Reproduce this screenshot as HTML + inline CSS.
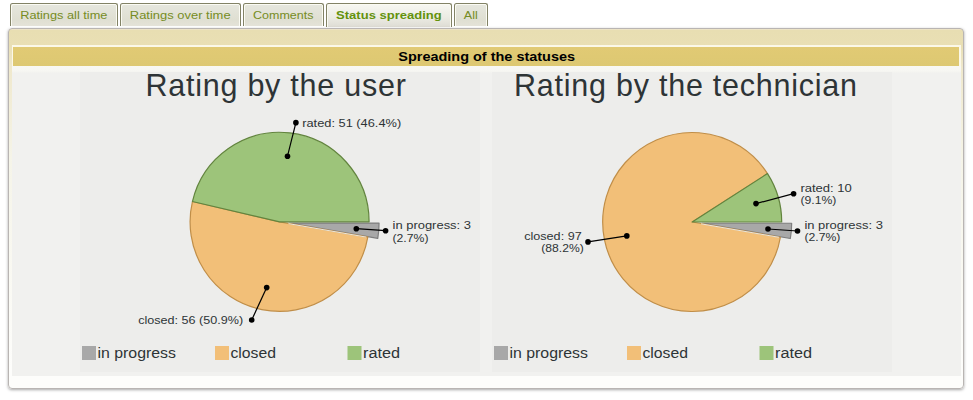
<!DOCTYPE html>
<html><head><meta charset="utf-8">
<style>
html,body{margin:0;padding:0;background:#fff;width:973px;height:400px;overflow:hidden;position:relative;font-family:"Liberation Sans",sans-serif}
.tab{position:absolute;top:3px;height:22px;border:1px solid #828266;border-bottom:none;border-radius:2.5px 2.5px 0 0;
 background:linear-gradient(#e6e7de,#dfdfd2 70%,#e4e2d8);box-shadow:inset 1px 1px 0 #fbfbf3, inset -1px 0 0 #fbfbf3}
.tab.act{height:23px;background:linear-gradient(#f7f7f2,#ebebe3 60%,#dedcd4)}
#panel{position:absolute;left:8px;top:28px;width:954px;height:359px;border:1px solid #b9b5b3;border-radius:4px;
 box-shadow:0 1px 3px rgba(0,0,0,.35);overflow:hidden;
 background:linear-gradient(#efe6cf 0px,#e8deb2 1.5px,#e9dfb4 16px,#efe8cc 38px,#f5f4e8 130px,#fdfdfb 340px)}
#tbl{position:absolute;left:3px;top:16px;width:949px;height:331px;background:#fbf8e8}
#th{position:absolute;left:4px;top:18px;width:946px;height:19px;background:linear-gradient(#e1ca74,#ddc872)}
#td{position:absolute;left:3px;top:37px;width:949px;height:310px;background:linear-gradient(#f8f8f4 0px,#f6f6f2 5px,#f1f1ef 7px,#f1f1ef 100%)}
svg{position:absolute;left:0;top:0}
text{font-family:"Liberation Sans",sans-serif}
</style></head><body>
<div class="tab" style="left:10px;width:106px"></div><div class="tab" style="left:120px;width:119px"></div><div class="tab" style="left:243px;width:79px"></div><div class="tab act" style="left:326px;width:124px"></div><div class="tab" style="left:454px;width:32px"></div>
<div id="panel"><div id="tbl"></div><div id="th"></div><div id="td"></div></div>
<svg width="973" height="400" viewBox="0 0 973 400">
<rect x="80" y="72" width="400" height="300" fill="#ededeb"/>
<rect x="492" y="72" width="400" height="300" fill="#ededeb"/>
<text x="145.4" y="95.6" font-size="30.5" text-anchor="start" font-weight="normal" fill="#2e3436" textLength="260.5" lengthAdjust="spacing">Rating by the user</text>
<text x="514" y="95.6" font-size="30.5" text-anchor="start" font-weight="normal" fill="#2e3436" textLength="343" lengthAdjust="spacing">Rating by the technician</text>
<path d="M289.56,223.06 L379.06,223.06 A89.5,89.5 0 0 1 377.75,238.32 Z" fill="#a8a8a8" stroke="#7e7e7e" stroke-width="1.2" stroke-linejoin="round"/>
<path d="M279.60,221.80 L367.79,237.06 A89.5,89.5 0 1 1 192.43,201.53 Z" fill="#f2bf78" stroke="#c08e48" stroke-width="1.2" stroke-linejoin="round"/>
<path d="M279.60,221.80 L192.43,201.53 A89.5,89.5 0 0 1 369.10,221.80 Z" fill="#9dc47a" stroke="#62843e" stroke-width="1.2" stroke-linejoin="round"/>
<line x1="288.47" y1="223.63" x2="366.31" y2="237.11" stroke="#ebe7dc" stroke-width="1"/>
<line x1="287.5" y1="156.2" x2="295.9" y2="122.65" stroke="#000" stroke-width="1.2"/><circle cx="287.5" cy="156.2" r="2.8" fill="#000"/><circle cx="295.9" cy="122.65" r="2.8" fill="#000"/>
<line x1="356.3" y1="228.7" x2="385.6" y2="230.7" stroke="#000" stroke-width="1.2"/><circle cx="356.3" cy="228.7" r="2.8" fill="#000"/><circle cx="385.6" cy="230.7" r="2.8" fill="#000"/>
<line x1="266.7" y1="287.6" x2="251.7" y2="320" stroke="#000" stroke-width="1.2"/><circle cx="266.7" cy="287.6" r="2.8" fill="#000"/><circle cx="251.7" cy="320" r="2.8" fill="#000"/>
<text x="302.2" y="126.75" font-size="11.5" text-anchor="start" font-weight="normal" fill="#2e3436" textLength="99" lengthAdjust="spacingAndGlyphs">rated: 51 (46.4%)</text>
<text x="392.5" y="228.6" font-size="11.5" text-anchor="start" font-weight="normal" fill="#2e3436" textLength="78.5" lengthAdjust="spacingAndGlyphs">in progress: 3</text>
<text x="392.5" y="241.5" font-size="11.5" text-anchor="start" font-weight="normal" fill="#2e3436" textLength="36" lengthAdjust="spacingAndGlyphs">(2.7%)</text>
<text x="138.2" y="323.6" font-size="11.5" text-anchor="start" font-weight="normal" fill="#2e3436" textLength="105" lengthAdjust="spacingAndGlyphs">closed: 56 (50.9%)</text>
<path d="M702.16,223.26 L791.66,223.26 A89.5,89.5 0 0 1 790.35,238.52 Z" fill="#a8a8a8" stroke="#7e7e7e" stroke-width="1.2" stroke-linejoin="round"/>
<path d="M692.20,222.00 L780.39,237.26 A89.5,89.5 0 1 1 767.49,173.61 Z" fill="#f2bf78" stroke="#c08e48" stroke-width="1.2" stroke-linejoin="round"/>
<path d="M692.20,222.00 L767.49,173.61 A89.5,89.5 0 0 1 781.70,222.00 Z" fill="#9dc47a" stroke="#62843e" stroke-width="1.2" stroke-linejoin="round"/>
<line x1="701.07" y1="223.83" x2="778.91" y2="237.31" stroke="#ebe7dc" stroke-width="1"/>
<line x1="756" y1="203.6" x2="793.6" y2="193.7" stroke="#000" stroke-width="1.2"/><circle cx="756" cy="203.6" r="2.8" fill="#000"/><circle cx="793.6" cy="193.7" r="2.8" fill="#000"/>
<line x1="768" y1="229" x2="797.5" y2="231" stroke="#000" stroke-width="1.2"/><circle cx="768" cy="229" r="2.8" fill="#000"/><circle cx="797.5" cy="231" r="2.8" fill="#000"/>
<line x1="626.8" y1="235.9" x2="588" y2="241.9" stroke="#000" stroke-width="1.2"/><circle cx="626.8" cy="235.9" r="2.8" fill="#000"/><circle cx="588" cy="241.9" r="2.8" fill="#000"/>
<text x="800.4" y="191.6" font-size="11.5" text-anchor="start" font-weight="normal" fill="#2e3436" textLength="51.5" lengthAdjust="spacingAndGlyphs">rated: 10</text>
<text x="800.4" y="203.8" font-size="11.5" text-anchor="start" font-weight="normal" fill="#2e3436" textLength="36" lengthAdjust="spacingAndGlyphs">(9.1%)</text>
<text x="804.4" y="228.6" font-size="11.5" text-anchor="start" font-weight="normal" fill="#2e3436" textLength="78.5" lengthAdjust="spacingAndGlyphs">in progress: 3</text>
<text x="804.4" y="240.8" font-size="11.5" text-anchor="start" font-weight="normal" fill="#2e3436" textLength="36" lengthAdjust="spacingAndGlyphs">(2.7%)</text>
<text x="524.2" y="240.1" font-size="11.5" text-anchor="start" font-weight="normal" fill="#2e3436" textLength="57.5" lengthAdjust="spacingAndGlyphs">closed: 97</text>
<text x="541.3" y="251.6" font-size="11.5" text-anchor="start" font-weight="normal" fill="#2e3436" textLength="42.5" lengthAdjust="spacingAndGlyphs">(88.2%)</text>
<rect x="82" y="346" width="14" height="14" fill="#a8a8a8"/>
<text x="97.5" y="357.8" font-size="15.5" text-anchor="start" font-weight="normal" fill="#2e3436" textLength="78.5" lengthAdjust="spacingAndGlyphs">in progress</text>
<rect x="215" y="346" width="14" height="14" fill="#f2bf78"/>
<text x="230.5" y="357.8" font-size="15.5" text-anchor="start" font-weight="normal" fill="#2e3436" textLength="45.5" lengthAdjust="spacingAndGlyphs">closed</text>
<rect x="347.5" y="346" width="14" height="14" fill="#9dc47a"/>
<text x="363.0" y="357.8" font-size="15.5" text-anchor="start" font-weight="normal" fill="#2e3436" textLength="37" lengthAdjust="spacingAndGlyphs">rated</text>
<rect x="494" y="346" width="14" height="14" fill="#a8a8a8"/>
<text x="509.5" y="357.8" font-size="15.5" text-anchor="start" font-weight="normal" fill="#2e3436" textLength="78.5" lengthAdjust="spacingAndGlyphs">in progress</text>
<rect x="627" y="346" width="14" height="14" fill="#f2bf78"/>
<text x="642.5" y="357.8" font-size="15.5" text-anchor="start" font-weight="normal" fill="#2e3436" textLength="45.5" lengthAdjust="spacingAndGlyphs">closed</text>
<rect x="759.5" y="346" width="14" height="14" fill="#9dc47a"/>
<text x="775.0" y="357.8" font-size="15.5" text-anchor="start" font-weight="normal" fill="#2e3436" textLength="37" lengthAdjust="spacingAndGlyphs">rated</text>
<text x="398.3" y="61" font-size="12" text-anchor="start" font-weight="bold" fill="#000" textLength="176.8" lengthAdjust="spacingAndGlyphs">Spreading of the statuses</text>
<text x="20.2" y="18.7" font-size="11.5" text-anchor="start" font-weight="normal" fill="#768c24" textLength="87.2" lengthAdjust="spacingAndGlyphs">Ratings all time</text>
<text x="129.8" y="18.7" font-size="11.5" text-anchor="start" font-weight="normal" fill="#768c24" textLength="100.8" lengthAdjust="spacingAndGlyphs">Ratings over time</text>
<text x="253.1" y="18.7" font-size="11.5" text-anchor="start" font-weight="normal" fill="#768c24" textLength="60.4" lengthAdjust="spacingAndGlyphs">Comments</text>
<text x="336.1" y="18.7" font-size="11.5" text-anchor="start" font-weight="bold" fill="#64920c" textLength="105.6" lengthAdjust="spacingAndGlyphs">Status spreading</text>
<text x="463.8" y="18.7" font-size="11.5" text-anchor="start" font-weight="normal" fill="#768c24" textLength="14" lengthAdjust="spacingAndGlyphs">All</text>
</svg>
</body></html>
